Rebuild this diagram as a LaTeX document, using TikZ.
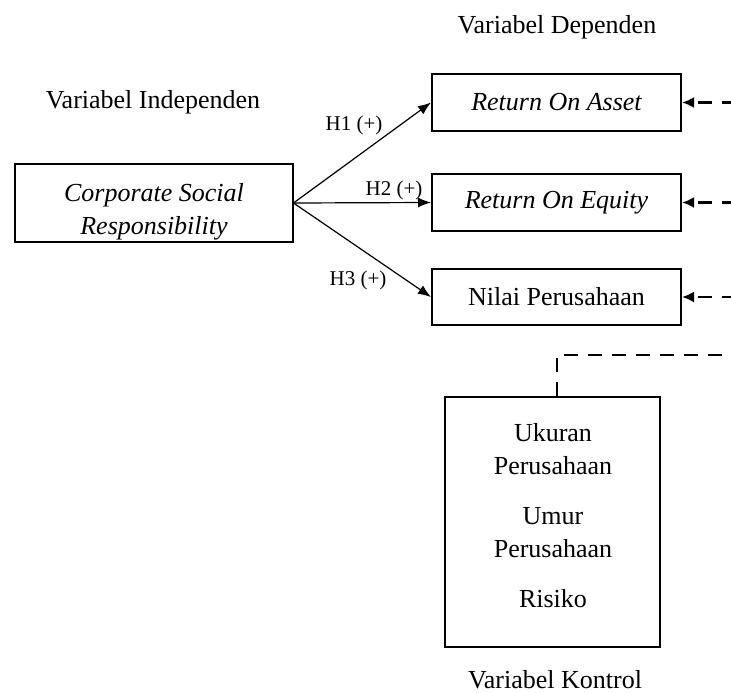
\documentclass[tikz,border=0pt]{standalone}
\usepackage{fontspec}
\setmainfont{Liberation Serif}
\usetikzlibrary{arrows.meta}
\tikzset{
  box/.style={draw, line width=2pt, inner sep=0pt},
  lbl/.style={font=\fontsize{26}{33}\selectfont, inner sep=0pt},
  hlbl/.style={font=\fontsize{21}{25}\selectfont, inner sep=0pt},
  hyp/.style={line width=1.2pt, -{Latex[length=13pt,width=10pt]}},
  ctl/.style={line width=2.6pt, dash pattern=on 14pt off 10pt},
  ctlarrow/.style={ctl, -{Latex[length=12pt,width=11pt]}}
}
\begin{document}
\begin{tikzpicture}[x=1pt,y=-1pt]
\useasboundingbox (0,0) rectangle (731,693);
\clip (0,0) rectangle (731,693);
\fill[white] (0,0) rectangle (731,693);

% titles
\node[lbl] (tdep) at (557,27) {Variabel Dependen};
\node[lbl] (tind) at (153,102) {Variabel Independen};
\node[lbl] (tkon) at (555,680) {Variabel Kontrol};

% boxes
\node[box, minimum width=278pt, minimum height=78pt] (csr) at (153.5,203) {};
\node[lbl, align=center] (csrtxt) at (154,212)
  {\itshape Corporate Social\\\itshape Responsibility};
\node[box, lbl, minimum width=249pt, minimum height=57pt] (roa) at (556.5,102.5) {\itshape Return On Asset};
\node[box, lbl, minimum width=249pt, minimum height=57pt] (roe) at (556.5,202.5) {\itshape Return On Equity};
\node[box, lbl, minimum width=249pt, minimum height=56pt] (np) at (556.5,297) {Nilai Perusahaan};
\node[box, minimum width=215pt, minimum height=250pt] (ctrl) at (552.5,522) {};
\node[lbl, align=center] (ctrltxt) at (553,516)
  {Ukuran\\Perusahaan\\[17pt]Umur\\Perusahaan\\[17pt]Risiko};

% hypotheses
\draw[hyp] (csr.east) -- (roa.west);
\draw[hyp] (csr.east) -- (roe.west);
\draw[hyp] (csr.east) -- (np.west);
\node[hlbl] (h1) at (354,125) {H1 (+)};
\node[hlbl] (h2) at (394,190) {H2 (+)};
\node[hlbl] (h3) at (358,280) {H3 (+)};

% control connectors
\coordinate (r1) at (760,102.5);
\coordinate (r2) at (760,202.5);
\coordinate (r3) at (760,297);
\coordinate (cc) at (557,355);
\coordinate (cr) at (760,355);
\draw[ctlarrow] (r1) -- (roa.east);
\draw[ctlarrow] (r2) -- (roe.east);
\draw[ctlarrow] (r3) -- (np.east);
\draw[ctl] ([xshift=4.5pt]ctrl.north) -- (cc) -- (cr);
\end{tikzpicture}
\end{document}
